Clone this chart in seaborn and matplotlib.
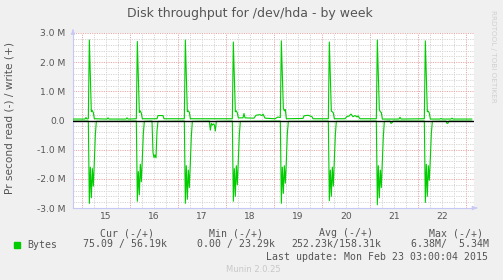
import matplotlib
matplotlib.use("Agg")
import matplotlib.pyplot as plt
import matplotlib.dates as mdates
import matplotlib.ticker as mticker
from matplotlib.patches import Rectangle
import pandas as pd
import seaborn as sns

# ---------------- data ----------------
TITLE = "Disk throughput for /dev/hda - by week"
YLABEL = "Pr second read (-) / write (+)"
SERIES = "Bytes"

y_ticks = [-3, -2, -1, 0, 1, 2, 3]
y_tick_labels = ["-3.0 M", "-2.0 M", "-1.0 M", "0.0", "1.0 M", "2.0 M", "3.0 M"]

legend_headers = ["Cur (-/+)", "Min (-/+)", "Avg (-/+)", "Max (-/+)"]
legend_values = ["75.09 / 56.19k", "0.00 / 23.29k", "252.23k/158.31k", "6.38M/  5.34M"]
last_update = "Last update: Mon Feb 23 03:00:04 2015"
version = "Munin 2.0.25"
watermark = "RRDTOOL / TOBI OETIKER"

# write (MB/s), time "DD HH:MM" in Feb 2015
write_time = [
    "14 19:30", "15 01:30", "15 02:00", "15 02:30",
    "15 03:10", "15 03:40", "15 04:40", "15 05:10", "15 05:40", "15 06:10",
    "15 12:30", "15 13:00", "15 13:30", "15 22:00", "15 22:30", "15 23:00",
    "16 03:10", "16 03:40", "16 04:40", "16 05:10", "16 05:40", "16 06:10",
    "16 13:30", "16 14:00", "16 16:30", "16 17:00",
    "17 03:10", "17 03:40", "17 04:40", "17 05:10", "17 05:40", "17 06:10",
    "18 03:10", "18 03:40", "18 04:40", "18 05:10", "18 05:40", "18 06:10",
    "18 08:30", "18 09:00", "18 09:30", "18 14:00", "18 15:00", "18 17:00",
    "18 18:00", "18 18:30", "18 19:30", "19 00:30", "19 02:00",
    "19 03:10", "19 03:40", "19 04:40", "19 05:10", "19 05:40", "19 06:10",
    "19 14:30", "19 15:00", "19 17:00", "19 19:00", "19 19:30",
    "20 03:10", "20 03:40", "20 04:40", "20 05:10", "20 05:40", "20 06:10",
    "20 11:30", "20 12:30", "20 13:30", "20 14:30", "20 15:30", "20 16:30",
    "20 17:30", "20 18:00", "20 19:00",
    "21 03:10", "21 03:40", "21 04:40", "21 05:10", "21 05:40", "21 06:10",
    "21 14:30", "21 15:00", "21 15:30",
    "22 03:10", "22 03:40", "22 04:40", "22 05:10", "22 05:40", "22 06:10",
    "22 11:00", "22 11:30", "22 12:00", "22 16:30", "22 17:00", "22 17:30",
    "23 03:00",
]
write_mb = [
    0.05, 0.05, 0.10, 0.05,
    0.06, 2.76, 0.30, 0.34, 0.27, 0.06,
    0.05, 0.09, 0.05, 0.05, 0.09, 0.05,
    0.06, 2.71, 0.28, 0.33, 0.25, 0.06,
    0.06, 0.17, 0.17, 0.06,
    0.06, 2.76, 0.30, 0.33, 0.28, 0.06,
    0.06, 2.69, 0.30, 0.33, 0.26, 0.09,
    0.09, 0.24, 0.09, 0.08, 0.18, 0.20,
    0.17, 0.22, 0.08, 0.06, 0.12,
    0.10, 2.73, 0.43, 0.33, 0.38, 0.06,
    0.07, 0.16, 0.18, 0.13, 0.06,
    0.06, 2.69, 0.32, 0.30, 0.26, 0.06,
    0.06, 0.14, 0.15, 0.22, 0.13, 0.17,
    0.12, 0.16, 0.06,
    0.06, 2.76, 0.37, 0.30, 0.27, 0.05,
    0.05, 0.11, 0.05,
    0.06, 2.73, 0.30, 0.32, 0.25, 0.05,
    0.05, 0.07, 0.05, 0.05, 0.08, 0.05,
    0.05,
]

# read (MB/s, plotted downward)
read_time = [
    "14 19:30",
    "15 03:10", "15 03:40", "15 04:10", "15 04:40", "15 05:10", "15 05:40", "15 06:10", "15 06:40", "15 07:10",
    "16 03:10", "16 03:40", "16 04:10", "16 04:40", "16 05:10", "16 05:40", "16 06:10", "16 06:40", "16 07:10",
    "16 11:00", "16 11:30", "16 12:00", "16 12:30", "16 13:00", "16 13:30", "16 14:00",
    "17 03:10", "17 03:40", "17 04:10", "17 04:40", "17 05:10", "17 05:40", "17 06:10", "17 06:40", "17 07:10",
    "17 15:40", "17 16:10", "17 16:40", "17 17:10", "17 17:40", "17 18:10", "17 18:40", "17 19:10",
    "18 03:10", "18 03:40", "18 04:10", "18 04:40", "18 05:10", "18 05:40", "18 06:10", "18 06:40", "18 07:10",
    "19 03:10", "19 03:40", "19 04:10", "19 04:40", "19 05:10", "19 05:40", "19 06:10", "19 06:40", "19 07:10",
    "20 03:10", "20 03:40", "20 04:10", "20 04:40", "20 05:10", "20 05:40", "20 06:10", "20 06:40", "20 07:10",
    "21 03:10", "21 03:40", "21 04:10", "21 04:40", "21 05:10", "21 05:40", "21 06:10", "21 06:40", "21 07:10",
    "21 10:00", "21 10:30", "21 11:00", "21 11:30",
    "22 03:10", "22 03:40", "22 04:10", "22 04:40", "22 05:10", "22 05:40", "22 06:10", "22 06:40", "22 07:10",
    "22 14:00", "22 14:30", "22 15:00", "22 15:30",
    "23 03:00",
]
read_mb = [
    0.02,
    0.02, 2.84, 1.60, 2.65, 1.65, 2.25, 1.40, 0.50, 0.03,
    0.02, 2.77, 1.75, 2.55, 1.50, 2.10, 1.30, 0.45, 0.03,
    0.02, 1.10, 1.27, 1.18, 1.28, 0.35, 0.03,
    0.02, 2.84, 1.55, 2.70, 1.70, 2.30, 1.45, 0.55, 0.03,
    0.02, 0.33, 0.10, 0.16, 0.12, 0.15, 0.36, 0.03,
    0.02, 2.77, 1.65, 2.60, 1.55, 2.20, 1.35, 0.50, 0.03,
    0.02, 2.84, 1.60, 2.50, 1.55, 2.15, 1.40, 0.45, 0.03,
    0.02, 2.75, 1.70, 2.60, 1.60, 2.25, 1.35, 0.50, 0.03,
    0.02, 2.89, 1.55, 2.65, 1.70, 2.30, 1.40, 0.55, 0.03,
    0.02, 0.10, 0.08, 0.02,
    0.02, 2.81, 1.50, 2.60, 1.55, 2.05, 1.30, 0.45, 0.03,
    0.02, 0.10, 0.09, 0.02,
    0.02,
]

# ---------------- figure ----------------
W, H = 503, 280
BG = "#f0f0f0"
TXT = "#555555"
GREEN = "#00cc00"
AXC = "#c8c8f4"
MGRID = "#e8a8a8"
GRID = "#d4d4d4"

sns.set_style("white")
plt.rcParams["font.family"] = ["DejaVu Sans"]

fig = plt.figure(figsize=(W / 100, H / 100), dpi=100, facecolor=BG)
L, R, T, B = 73, 474, 33, 208
ax = fig.add_axes([L / W, 1 - B / H, (R - L) / W, (B - T) / H])
ax.set_facecolor("white")

wdf = pd.DataFrame({"t": pd.to_datetime(["2015-02-" + s for s in write_time]),
                    "v": write_mb})
rdf = pd.DataFrame({"t": pd.to_datetime(["2015-02-" + s for s in read_time]),
                    "v": [-v for v in read_mb]})

sns.lineplot(data=wdf, x="t", y="v", ax=ax, color=GREEN, lw=0.8,
             estimator=None, zorder=3)
sns.lineplot(data=rdf, x="t", y="v", ax=ax, color=GREEN, lw=0.8,
             estimator=None, zorder=3)
ax.axhline(0, color="black", lw=1.0, zorder=4)

ax.set_xlim(pd.Timestamp("2015-02-14 19:30"), pd.Timestamp("2015-02-23 04:00"))
ax.set_ylim(-3, 3)

# x axis: red grid at midnight, grey every 6 h, labels at noon
ax.xaxis.set_major_locator(mdates.DayLocator())
ax.xaxis.set_minor_locator(mdates.HourLocator(byhour=[6, 12, 18]))
ax.xaxis.set_major_formatter(mticker.NullFormatter())


def day_fmt(x, pos):
    d = mdates.num2date(x)
    return d.strftime("%d").lstrip("0") if d.hour == 12 else ""


ax.xaxis.set_minor_formatter(mticker.FuncFormatter(day_fmt))

ax.set_yticks(y_ticks)
ax.set_yticklabels(y_tick_labels)
ax.yaxis.set_minor_locator(mticker.MultipleLocator(0.2))

ax.set_axisbelow(True)
ax.grid(which="minor", color=GRID, lw=0.7, ls=(0, (1.2, 1.2)))
ax.grid(which="major", color=MGRID, lw=0.7, ls=(0, (1.2, 1.2)))

ax.tick_params(axis="x", which="both", length=0, pad=3.2,
               labelsize=6.6, labelcolor=TXT)
ax.tick_params(axis="y", which="major", length=2, color=MGRID, pad=3.5,
               labelsize=6.6, labelcolor=TXT)
ax.tick_params(axis="y", which="minor", length=2, color=GRID)
ax.set_xlabel("")
ax.set_ylabel("")

for s in ["top", "right"]:
    ax.spines[s].set_visible(False)
for s in ["left", "bottom"]:
    ax.spines[s].set_color(AXC)
    ax.spines[s].set_linewidth(0.8)

# axis arrows
ax.annotate("", xy=(0, 1.035), xytext=(0, 1.0), xycoords="axes fraction",
            arrowprops=dict(arrowstyle="-|>", color=AXC, lw=0.8,
                            mutation_scale=6), annotation_clip=False)
ax.annotate("", xy=(1.014, 0), xytext=(1.0, 0), xycoords="axes fraction",
            arrowprops=dict(arrowstyle="-|>", color=AXC, lw=0.8,
                            mutation_scale=6), annotation_clip=False)

# texts
def fx(x):
    return x / W


def fy(y):
    return 1 - y / H


fig.text(fx(250), fy(13), TITLE, ha="center", va="center",
         fontsize=9, color=TXT)
fig.text(fx(10), fy(118), YLABEL, ha="center", va="center", rotation=90,
         fontsize=7.6, color=TXT)
fig.text(fx(493), fy(56), watermark, ha="center", va="center", rotation=270,
         fontsize=5.2, color="#d0d0d0")

mono = "DejaVu Sans Mono"
ms = 7.1
for xh, h in zip([100, 209, 319, 429], legend_headers):
    fig.text(fx(xh), fy(233), h, ha="left", va="center", family=mono,
             fontsize=ms, color=TXT)
fig.patches.append(Rectangle((fx(14), fy(247.5)), 5.5 / W, 5.5 / H,
                             transform=fig.transFigure, color=GREEN))
fig.text(fx(27), fy(244.5), SERIES, ha="left", va="center", family=mono,
         fontsize=ms, color=TXT)
for xv, v in zip([83, 197, 291, 411], legend_values):
    fig.text(fx(xv), fy(244.5), v, ha="left", va="center", family=mono,
             fontsize=ms, color=TXT)
fig.text(fx(488), fy(257), last_update, ha="right", va="center", family=mono,
         fontsize=ms, color=TXT)
fig.text(fx(253.5), fy(269.5), version, ha="center", va="center",
         fontsize=6.0, color="#c8c8c8")

fig.savefig("out.png", dpi=100, facecolor=BG)
